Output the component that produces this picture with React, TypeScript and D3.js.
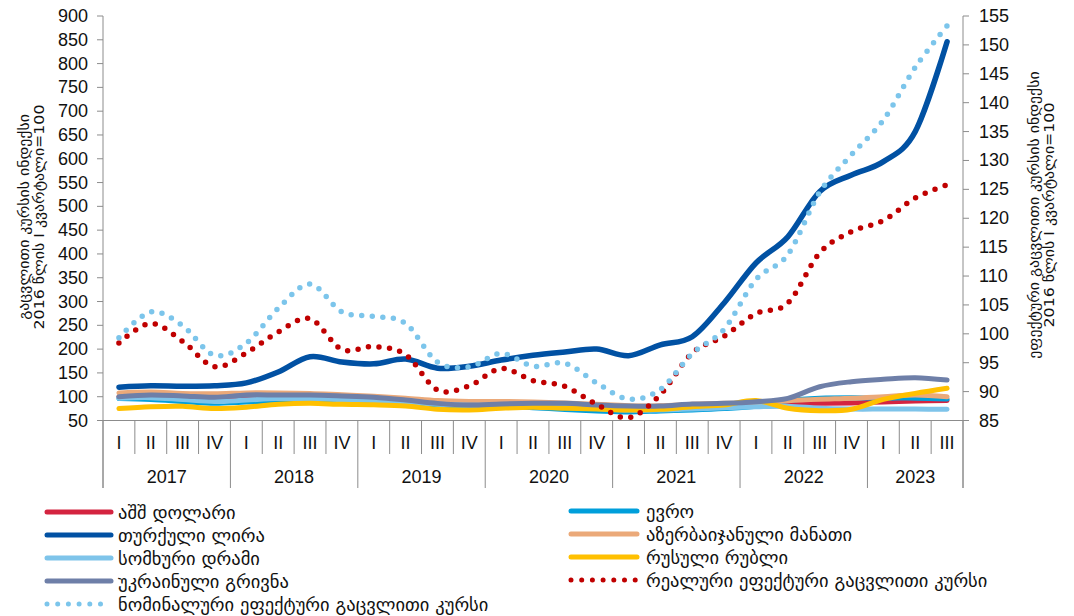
import React from "react";
import * as d3 from "d3";

const years = ["2017", "2018", "2019", "2020", "2021", "2022", "2023"];
const quarterLabels = ["I", "II", "III", "IV"];
const quarterCounts = [4, 4, 4, 4, 4, 4, 3];

// bilateral indices (left axis)
const usd = [100, 101, 98, 97, 99, 99, 98, 96, 93, 89, 85, 83, 83, 82, 80, 77, 75, 75, 77, 79, 80, 86, 86, 87, 89, 91, 92];
const eur = [96, 94, 90, 86, 89, 91, 89, 88, 87, 85, 80, 81, 80, 77, 73, 70, 68, 70, 72, 75, 80, 92, 97, 98, 97, 97, 95];
const tryL = [120, 123, 122, 123, 129, 152, 184, 173, 169, 179, 160, 164, 177, 187, 194, 200, 186, 209, 226, 297, 381, 436, 531, 566, 594, 657, 846];
const azn = [108, 110, 107, 106, 108, 108, 107, 104, 101, 97, 92, 90, 90, 89, 87, 84, 81, 81, 84, 86, 87, 91.5, 94.5, 96.6, 100, 103.5, 100];
const amd = [97, 98, 94, 90, 93, 96, 96, 94, 92, 89, 84, 82, 82, 80, 78, 75, 72, 72, 74, 77, 79, 80, 75.5, 74, 74, 74, 73.5];
const rub = [75, 79, 80, 75, 78, 84, 86, 84, 83, 80.5, 73.5, 72, 75.6, 77.7, 75.6, 74.2, 72, 73.5, 79, 82.6, 92, 75.6, 70.6, 73.5, 94.5, 107, 117.7];
const uah = [100, 103.6, 101.5, 98.7, 103.6, 103.6, 103.6, 101.5, 98.7, 93, 86, 82.6, 84.7, 86, 86, 82.6, 80.5, 80.5, 84.7, 86, 89.5, 96.6, 121, 131.5, 136.5, 140, 135];
// effective rates (right axis)
const reer = [98.4, 101.8, 98.7, 94.3, 96.7, 100.3, 102.6, 97.3, 97.8, 96.4, 90.3, 91.0, 94.0, 91.9, 90.9, 87.8, 85.5, 89.5, 96.7, 99.6, 103.5, 105.3, 114.0, 117.7, 119.6, 123.5, 125.8];
const neer = [99.3, 103.8, 101.4, 96.3, 98.4, 104.4, 108.6, 103.8, 103.0, 101.8, 95.1, 94.3, 96.6, 94.4, 94.9, 91.5, 88.7, 90.4, 96.6, 100.8, 109.4, 113.7, 124.5, 131.0, 137.0, 146.1, 153.3];

const leftTicks = d3.range(50, 901, 50);
const rightTicks = d3.range(85, 156, 5);

const seriesNames = {
  usd: "აშშ დოლარი",
  eur: "ევრო",
  tryL: "თურქული ლირა",
  azn: "აზერბაიჯანული მანათი",
  amd: "სომხური დრამი",
  rub: "რუსული რუბლი",
  uah: "უკრაინული გრივნა",
  reer: "რეალური ეფექტური გაცვლითი კურსი",
  neer: "ნომინალური ეფექტური გაცვლითი კურსი",
};

const leftTitle = ["გაცვლითი კურსის ინდექსი", "2016 წლის I კვარტალი=100"];
const rightTitle = ["ეფექტური გაცვლითი კურსის ინდექსი", "2016 წლის I კვარტალი=100"];

const W = 1074;
const H = 616;
const X0 = 103;
const X1 = 963;
const Y_BOTTOM = 420.5;
const Y_TOP = 16;

const numFont = "'Liberation Sans', Arial, sans-serif";
const geoFont = "'DejaVu Sans', sans-serif";
const axisColor = "#8c8c8c";

export default function App() {
  const n = usd.length;
  const idx = d3.range(n);
  const x = d3.scaleBand<number>().domain(idx).range([X0, X1]).padding(0);
  const cx = (i: number) => (x(i) as number) + x.bandwidth() / 2;
  const yL = d3.scaleLinear().domain([50, 900]).range([Y_BOTTOM, Y_TOP]);
  const yR = d3.scaleLinear().domain([85, 155]).range([Y_BOTTOM, Y_TOP]);

  const lineL = d3
    .line<number>()
    .x((_, i) => cx(i))
    .y((d) => yL(d))
    .curve(d3.curveCardinal.tension(0));
  const lineR = d3
    .line<number>()
    .x((_, i) => cx(i))
    .y((d) => yR(d))
    .curve(d3.curveCardinal.tension(0));

  const solid = [
    { key: "usd", data: usd, color: "#d42440" },
    { key: "eur", data: eur, color: "#009fdb" },
    { key: "tryL", data: tryL, color: "#0151a3" },
    { key: "azn", data: azn, color: "#eba979" },
    { key: "amd", data: amd, color: "#7ec4ea" },
    { key: "rub", data: rub, color: "#ffc000" },
    { key: "uah", data: uah, color: "#6e7fa8" },
  ];
  const dotted = [
    { key: "reer", data: reer, color: "#c00000" },
    { key: "neer", data: neer, color: "#7cc5eb" },
  ];

  const boundaries: { x: number; year: boolean }[] = [];
  let k = 0;
  quarterCounts.forEach((c) => {
    for (let q = 0; q < c; q++) {
      boundaries.push({ x: x(k) as number, year: q === 0 });
      k++;
    }
  });
  boundaries.push({ x: X1, year: true });

  const quarterItems: { x: number; label: string }[] = [];
  const yearItems: { x: number; label: string }[] = [];
  k = 0;
  quarterCounts.forEach((c, yi) => {
    const start = k;
    for (let q = 0; q < c; q++) {
      quarterItems.push({ x: cx(k), label: quarterLabels[q] });
      k++;
    }
    const xs = x(start) as number;
    const xe = (x(k - 1) as number) + x.bandwidth();
    yearItems.push({ x: (xs + xe) / 2, label: years[yi] });
  });

  const legendLeft = ["usd", "tryL", "amd", "uah", "neer"];
  const legendRight = ["eur", "azn", "rub", "reer"];
  const colorOf: Record<string, string> = {};
  [...solid, ...dotted].forEach((s) => (colorOf[s.key] = s.color));
  const isDotted = (key: string) => key === "reer" || key === "neer";

  const legendRow = (key: string, i: number, xs: number, xe: number, tx: number, y0: number) => (
    <g key={key}>
      <line
        x1={xs}
        x2={xe}
        y1={y0 + i * 23}
        y2={y0 + i * 23}
        stroke={colorOf[key]}
        strokeWidth={5}
        strokeLinecap="round"
        strokeDasharray={isDotted(key) ? "0 10.7" : undefined}
      />
      <text x={tx} y={y0 + i * 23} dominantBaseline="central" fontFamily={geoFont} fontSize={18.5} fill="#111">
        {(seriesNames as any)[key]}
      </text>
    </g>
  );

  return (
    <svg width={W} height={H} style={{ position: "absolute", left: 0, top: 0, background: "#fff" }}>
      <rect x={0} y={0} width={W} height={H} fill="#fff" />
      <line x1={X0} x2={X0} y1={Y_TOP} y2={488} stroke={axisColor} strokeWidth={1} />
      <line x1={X1} x2={X1} y1={Y_TOP} y2={488} stroke={axisColor} strokeWidth={1} />
      <line x1={X0} x2={X1} y1={Y_BOTTOM} y2={Y_BOTTOM} stroke={axisColor} strokeWidth={1} />
      {leftTicks.map((t) => (
        <g key={"l" + t}>
          <line x1={X0 - 6} x2={X0} y1={yL(t)} y2={yL(t)} stroke={axisColor} />
          <text x={88} y={yL(t)} textAnchor="end" dominantBaseline="central" fontFamily={numFont} fontSize={18} fill="#111">
            {t}
          </text>
        </g>
      ))}
      {rightTicks.map((t) => (
        <g key={"r" + t}>
          <line x1={X1} x2={X1 + 6} y1={yR(t)} y2={yR(t)} stroke={axisColor} />
          <text x={979} y={yR(t)} textAnchor="start" dominantBaseline="central" fontFamily={numFont} fontSize={18} fill="#111">
            {t}
          </text>
        </g>
      ))}
      {boundaries.map((b, i) => (
        <line key={"b" + i} x1={b.x} x2={b.x} y1={Y_BOTTOM} y2={b.year ? 488 : 454} stroke={axisColor} />
      ))}
      {quarterItems.map((q, i) => (
        <text key={"q" + i} x={q.x} y={443} textAnchor="middle" dominantBaseline="central" fontFamily={numFont} fontSize={18} fill="#111">
          {q.label}
        </text>
      ))}
      {yearItems.map((q, i) => (
        <text key={"y" + i} x={q.x} y={477} textAnchor="middle" dominantBaseline="central" fontFamily={numFont} fontSize={18} fill="#111">
          {q.label}
        </text>
      ))}
      {leftTitle.map((t, i) => (
        <text
          key={"lt" + i}
          transform={`translate(${24.5 + i * 15},217) rotate(-90) scale(1.13,1)`}
          textAnchor="middle"
          dominantBaseline="central"
          fontFamily={geoFont}
          fontSize={14}
          fill="#111"
        >
          {t}
        </text>
      ))}
      {rightTitle.map((t, i) => (
        <text
          key={"rt" + i}
          transform={`translate(${1034 + i * 15},215) rotate(-90) scale(1.13,1)`}
          textAnchor="middle"
          dominantBaseline="central"
          fontFamily={geoFont}
          fontSize={14}
          fill="#111"
        >
          {t}
        </text>
      ))}
      {solid.map((s) => (
        <path
          key={s.key}
          d={lineL(s.data) || ""}
          fill="none"
          stroke={s.color}
          strokeWidth={s.key === "tryL" ? 5.5 : 5}
          strokeLinecap="round"
          strokeLinejoin="round"
        />
      ))}
      {dotted.map((s) => (
        <path
          key={s.key}
          d={lineR(s.data) || ""}
          fill="none"
          stroke={s.color}
          strokeWidth={5.5}
          strokeLinecap="round"
          strokeDasharray="0 10.6"
        />
      ))}
      {legendLeft.map((key, i) => legendRow(key, i, 47, 111, 118, 512))}
      {legendRight.map((key, i) => legendRow(key, i, 571, 637, 646, 511))}
    </svg>
  );
}
